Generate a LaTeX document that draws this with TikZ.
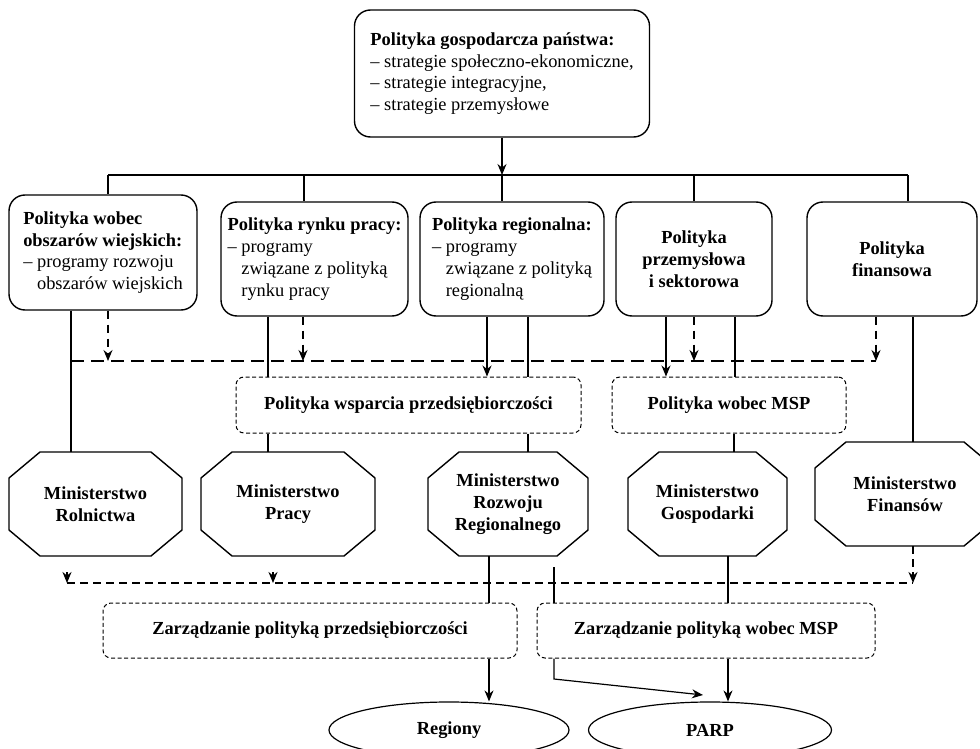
\documentclass[tikz,border=0pt]{standalone}
\usepackage{fontspec}
\setmainfont{Liberation Serif}
\usetikzlibrary{arrows.meta,shapes.geometric}

\newcommand\figfont{\fontsize{9.2}{10.9}\selectfont}
\newcommand\dashindent{\phantom{– }}

\tikzset{
  policy/.style={draw, line width=0.7pt, rounded corners=8pt, align=left, inner sep=2pt, font=\figfont},
  bpolicy/.style={policy, align=center, font=\figfont\bfseries},
  scheme/.style={draw, line width=0.5pt, dash pattern=on 2pt off 1.3pt, rounded corners=4pt, minimum height=28pt, font=\figfont\bfseries},
  ministry/.style={minimum height=52pt, inner sep=0pt, outer sep=0pt, align=center, font=\figfont\bfseries},
  target/.style={draw, ellipse, line width=0.6pt, minimum width=120pt, minimum height=28pt, font=\figfont\bfseries},
  link/.style={line width=0.6pt},
  arr/.style={link, -{Stealth[length=5.5pt,width=4.5pt]}},
  dasharr/.style={arr, dash pattern=on 4pt off 3pt},
  dashline/.style={link, dash pattern=on 6.5pt off 3.5pt},
  dotline/.style={line width=0.9pt, dash pattern=on 4pt off 2.5pt},
  smallarr/.style={dotline, -{Stealth[length=5.5pt,width=4.5pt]}},
}

\begin{document}
\begin{tikzpicture}[x=0.5pt, y=-0.5pt]
  \useasboundingbox (0,0) rectangle (980,749);

  % policies
  \node[policy, minimum width=147.5pt, minimum height=63.5pt] (top) at (502,73.5)
    {\textbf{Polityka gospodarcza państwa:}\\– strategie społeczno-ekonomiczne,\\– strategie integracyjne,\\– strategie przemysłowe};
  \node[policy, minimum width=94pt, minimum height=57.5pt] (b1) at (103,252.5)
    {\textbf{Polityka wobec}\\\textbf{obszarów wiejskich:}\\– programy rozwoju\\\dashindent obszarów wiejskich};
  \node[policy, minimum width=93.5pt, minimum height=57pt] (b2) at (314.5,259)
    {\textbf{Polityka rynku pracy:}\\– programy\\\dashindent związane z polityką\\\dashindent rynku pracy};
  \node[policy, minimum width=92pt, minimum height=57pt] (b3) at (512,259)
    {\textbf{Polityka regionalna:}\\– programy\\\dashindent związane z polityką\\\dashindent regionalną};
  \node[bpolicy, minimum width=78pt, minimum height=57pt] (b4) at (694,259) {Polityka\\przemysłowa\\i sektorowa};
  \node[bpolicy, minimum width=85pt, minimum height=57pt] (b5) at (892,259) {Polityka\\finansowa};

  \node[scheme, minimum width=172.5pt] (wsp) at (408.5,405) {Polityka wsparcia przedsiębiorczości};
  \node[scheme, minimum width=117pt] (msp) at (729,405) {Polityka wobec MSP};

  % ministries
  \node[ministry, minimum width=86.5pt] (o1) at (95.5,504) {Ministerstwo\\Rolnictwa};
  \node[ministry, minimum width=87pt] (o2) at (288,504) {Ministerstwo\\Pracy};
  \node[ministry, minimum width=80pt] (o3) at (508,504) {Ministerstwo\\Rozwoju\\Regionalnego};
  \node[ministry, minimum width=79.5pt] (o4) at (707.5,504) {Ministerstwo\\Gospodarki};
  \node[ministry, minimum width=90pt] (o5) at (905,494) {Ministerstwo\\Finansów};
  \foreach \m in {o1,o2,o3,o4,o5}
    \draw[line width=0.7pt] ([xshift=15.5pt]\m.north west) -- ([xshift=-15.5pt]\m.north east)
      -- ([yshift=-13pt]\m.north east) -- ([yshift=13pt]\m.south east)
      -- ([xshift=-15.5pt]\m.south east) -- ([xshift=15.5pt]\m.south west)
      -- ([yshift=13pt]\m.south west) -- ([yshift=-13pt]\m.north west) -- cycle;

  \node[scheme, minimum width=207pt, minimum height=27.5pt] (zp) at (310,630.5) {Zarządzanie polityką przedsiębiorczości};
  \node[scheme, minimum width=169pt, minimum height=27.5pt] (zm) at (706,630.5) {Zarządzanie polityką wobec MSP};

  \node[target] (reg) at (449,730) {Regiony};
  \node[target, minimum width=121.5pt] (parp) at (710,730) {PARP};

  % top bus
  \coordinate (bus) at (502,175);
  \draw[arr] (top) -- (bus);
  \draw[link] (108,175) -- (908,175);
  \foreach \x/\nd in {108/b1,304/b2,502/b3,694/b4,908/b5}
    \draw[link] (\x,175) -- (\x,175 |- \nd.north);

  % dashed links between policies
  \draw[dashline] (71,361) -- (876,361);
  \foreach \x/\nd in {108/b1,303/b2,694/b4,876/b5}
    \draw[dasharr] (\x,361 |- \nd.south) -- (\x,361);

  \draw[link] (71,0 |- b1.south) -- (71,0 |- o1.north);
  \draw[link] (268,0 |- b2.south) -- (268,0 |- wsp.north);
  \draw[arr] (487,0 |- b3.south) -- (487,0 |- wsp.north);
  \draw[link] (528,0 |- b3.south) -- (528,0 |- wsp.north);
  \draw[arr] (666,0 |- b4.south) -- (666,0 |- msp.north);
  \draw[link] (735,0 |- b4.south) -- (735,0 |- msp.north);
  \draw[link] (913,0 |- b5.south) -- (913,0 |- o5.north);
  \draw[link] (268,0 |- wsp.south) -- (268,0 |- o2.north);
  \draw[link] (528,0 |- wsp.south) -- (528,0 |- o3.north);
  \draw[link] (734,0 |- msp.south) -- (734,0 |- o4.north);

  % dashed links between ministries
  \draw[dotline] (67,583) -- (913,583);
  \foreach \x in {67,273}
    \draw[smallarr] (\x,572) -- (\x,583);
  \draw[smallarr] (913,0 |- o5.south) -- (913,583);

  % management
  \coordinate (cross) at (554,567);
  \draw[link] (489,0 |- o3.south) -- (489,0 |- zp.north);
  \draw[link] (cross) -- (cross |- zm.north);
  \draw[link] (728,0 |- o4.south) -- (728,0 |- zm.north);
  \draw[arr] (489,0 |- zp.south) -- (489,0 |- reg.north);
  \draw[arr] (728,0 |- zm.south) -- (728,0 |- parp.north);
  \draw[arr] (554,0 |- zm.south) -- (554,679) -- (703,695);
\end{tikzpicture}
\end{document}
